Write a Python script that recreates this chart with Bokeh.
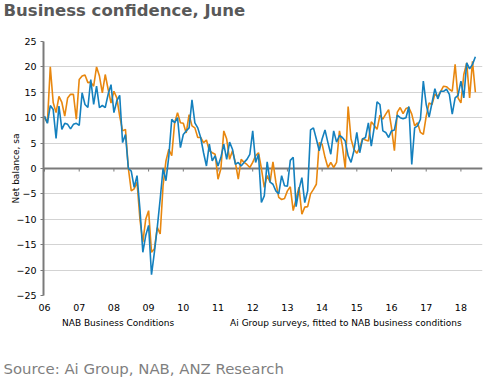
from bokeh.plotting import figure
from bokeh.layouts import column
from bokeh.models import (Range1d, FixedTicker, Span, Title, Legend, LegendItem)
from bokeh.embed import file_html
from bokeh.resources import INLINE

# ---- data (monthly, Jan 2006 - Jun 2018) ----
start_year = 2006
nab_conditions = [
    10, 9, 20, 13, 11, 14.2, 13, 10.3, 13.9, 14.6, 14.6, 9.7,
    17.5, 18.2, 18.4, 16.9, 17, 16.2, 20, 18.2, 14.9, 18.5, 15.6, 12.9,
    15.2, 13.9, 10.3, 7.4, 7.7, 0, -4.4, -4, -2.7, -10, -14.5, -10,
    -8.3, -16.5, -15.8, -11.6, -12.9, -3.4, 1.5, 3.8, 2.5, 9, 11, 9,
    8.9, 7, 10.6, 8.4, 8, 6.1, 6.1, 5.1, 5.6, 3.5, 3.1, 2.8,
    -2.1, 0, 7.4, 5.8, 1.8, 3.5, 1.2, -2.1, 1.8, 1.2, 0.8, 0.2,
    1.2, 2.5, 3.1, 0, -3.7, -1.4, -2.7, 1.3, -2.7, -5.7, -6.1, -5.9,
    -4.4, -3.6, -8.3, -6, -3.7, -9, -7.6, -7.5, -5, -4.1, -3.1, 5.1,
    4.8, 2.2, 0.2, 1.2, 0.2, 1.2, 7.4, 4.4, 0, 12.2, 5.8, 3.8,
    3, 4.1, 5.9, 5.6, 5.4, 9.2, 8.5, 7.7, 10.5, 9.7, 10.7, 11.6,
    8, 3.5, 11.1, 12, 10.8, 11.8, 12, 10.7, 8.4, 9, 7.1, 6.7,
    10.3, 12.9, 12.6, 14.6, 14.2, 15.2, 16.2, 16.1, 15.6, 15.2, 20.5, 13.9,
    12.9, 18.5, 20.8, 13.9, 21.1, 15,
]
ai_group_fitted = [
    10.3, 8.9, 12.4, 11.6, 5.9, 12.3, 7.7, 8.9, 8.7, 7.8, 8.7, 8.9,
    8.5, 14.9, 12.6, 12, 17.5, 12.6, 16.2, 12, 12.4, 12, 14.6, 16.5,
    11, 13.3, 14.4, 5.1, 6.7, 0, -0.5, -3.7, -1.4, -8, -16.5, -13.2,
    -11.2, -20.9, -16.5, -11.6, -6, 0, -2.4, 2.5, 9.7, 9, 10, 4.1,
    6.7, 7.4, 8, 13.5, 9, 8, 6.1, 3.1, 0.5, 4.8, 1.5, 2.5,
    0.5, 2.2, 4.8, 1.8, 5.2, 3.8, 0.8, 1.2, 0.5, 1.2, 1.8, 2.8,
    7.4, 1.2, 2.8, -6.7, -5.4, 1.3, -2.7, -3.1, -4.4, -5, -1.4, -3.4,
    -3.5, 1.6, 2.2, -7.5, -4.1, -1.8, -6.7, -4.4, 7.6, 8, 5.8, 3.5,
    5.8, 7.6, 5.1, 2.8, 7.4, 5.2, 6.5, 6.1, 5.4, 2.5, 1.2, 3.5,
    7.1, 3.1, 5.8, 6.1, 9, 4.4, 8, 13.1, 12.6, 7.4, 7.1, 6.1,
    7.4, 7.6, 10.5, 10, 9.8, 10, 12.2, 0.8, 8, 8.4, 9.7, 17.2,
    12.6, 10.1, 12.9, 15.7, 13.7, 15.2, 15.2, 15.6, 14.6, 10.7, 13.9, 14.4,
    17.2, 13.9, 20.8, 19.6, 20.5, 22,
]
years = list(range(2006, 2019))
tick_labels = ["06", "07", "08", "09", "10", "11", "12", "13", "14", "15", "16", "17", "18"]
y_ticks = [-25, -20, -15, -10, -5, 0, 5, 10, 15, 20, 25]
series_names = ["NAB Business Conditions", "Ai Group surveys, fitted to NAB business conditions"]
title_text = "Business confidence, June"
source_text = "Source: Ai Group, NAB, ANZ Research"

x_nab = [start_year + i / 12 for i in range(len(nab_conditions))]
x_ai = [start_year + i / 12 for i in range(len(ai_group_fitted))]

ORANGE = "#E8870F"
BLUE = "#1480BE"
AXIS = "#7A7A7A"
FONT = "DejaVu Sans"
W = 484


def blank(h):
    f = figure(width=W, height=h, output_backend="svg", toolbar_location=None,
               x_axis_type=None, y_axis_type=None,
               x_range=Range1d(0, 1), y_range=Range1d(0, 1),
               min_border=0, min_border_left=43, min_border_right=2,
               min_border_top=0, min_border_bottom=0)
    f.outline_line_color = None
    f.xgrid.visible = False
    f.ygrid.visible = False
    return f


# ---- header with title ----
head = blank(34)
head.title = Title(text=title_text, align="left", offset=-40, standoff=1,
                   vertical_align="top", text_font=FONT, text_font_size="16.5px",
                   text_font_style="bold", text_color="#595959")

# ---- main chart ----
p = figure(width=W, height=283, output_backend="svg", toolbar_location=None,
           x_range=Range1d(2005.971, 2018.622), y_range=Range1d(-25, 25),
           min_border_left=43, min_border_right=2, min_border_top=7, min_border_bottom=22)
p.outline_line_color = None
p.background_fill_color = "white"

p.xgrid.grid_line_color = None
p.ygrid.ticker = FixedTicker(ticks=y_ticks)
p.ygrid.grid_line_color = "#D3D3D3"
p.ygrid.grid_line_width = 1

p.yaxis.ticker = FixedTicker(ticks=y_ticks)
p.yaxis.axis_label = "Net balance, sa"
p.yaxis.axis_label_text_font = FONT
p.yaxis.axis_label_text_font_size = "9px"
p.yaxis.axis_label_text_font_style = "normal"
p.yaxis.axis_label_text_color = "#000000"
p.yaxis.axis_label_standoff = -8
p.yaxis.major_label_text_font = FONT
p.yaxis.major_label_text_font_size = "9.5px"
p.yaxis.major_label_text_color = "#000000"
p.yaxis.major_label_standoff = 4
p.yaxis.major_tick_out = 3
p.yaxis.major_tick_in = 0
p.yaxis.minor_tick_line_color = None
p.yaxis.axis_line_color = AXIS
p.yaxis.axis_line_width = 2
p.yaxis.major_tick_line_color = AXIS

p.xaxis.ticker = FixedTicker(ticks=years)
p.xaxis.major_label_overrides = {y: l for y, l in zip(years, tick_labels)}
p.xaxis.major_label_text_font = FONT
p.xaxis.major_label_text_font_size = "9.5px"
p.xaxis.major_label_text_color = "#000000"
p.xaxis.major_label_standoff = 2
p.xaxis.major_tick_line_color = None
p.xaxis.minor_tick_line_color = None
p.xaxis.axis_line_color = None

# zero line with year ticks
p.segment(x0=years, y0=[0] * len(years), x1=years, y1=[-0.6] * len(years),
          line_color=AXIS, line_width=1)
p.add_layout(Span(location=0, dimension="width", line_color=AXIS, line_width=2, level="underlay"))

p.line(x_nab, nab_conditions, line_color=ORANGE, line_width=1.6)
p.line(x_ai, ai_group_fitted, line_color=BLUE, line_width=1.6)

# ---- footer with legend and source ----
foot = blank(63)
k_nab = foot.line(x=[], y=[], line_color=ORANGE, line_width=1.6)
k_ai = foot.line(x=[], y=[], line_color=BLUE, line_width=1.6)
legend = Legend(items=[LegendItem(label=series_names[0], renderers=[k_nab]),
                       LegendItem(label=series_names[1], renderers=[k_ai])],
                location=(4, 26.5), orientation="horizontal",
                glyph_width=15, glyph_height=12, label_height=12, label_standoff=0,
                spacing=41, padding=0, margin=0,
                border_line_color=None, background_fill_alpha=0,
                label_text_font=FONT, label_text_font_size="9px", label_text_color="#000000")
foot.add_layout(legend)
foot.add_layout(Title(text=source_text, align="left", offset=-40, standoff=4.6,
                      vertical_align="bottom", text_font=FONT, text_font_size="14.9px",
                      text_font_style="normal", text_color="#7F7F7F"), "below")

layout = column(head, p, foot, spacing=0)
open("out.html", "w").write(file_html(layout, INLINE))
